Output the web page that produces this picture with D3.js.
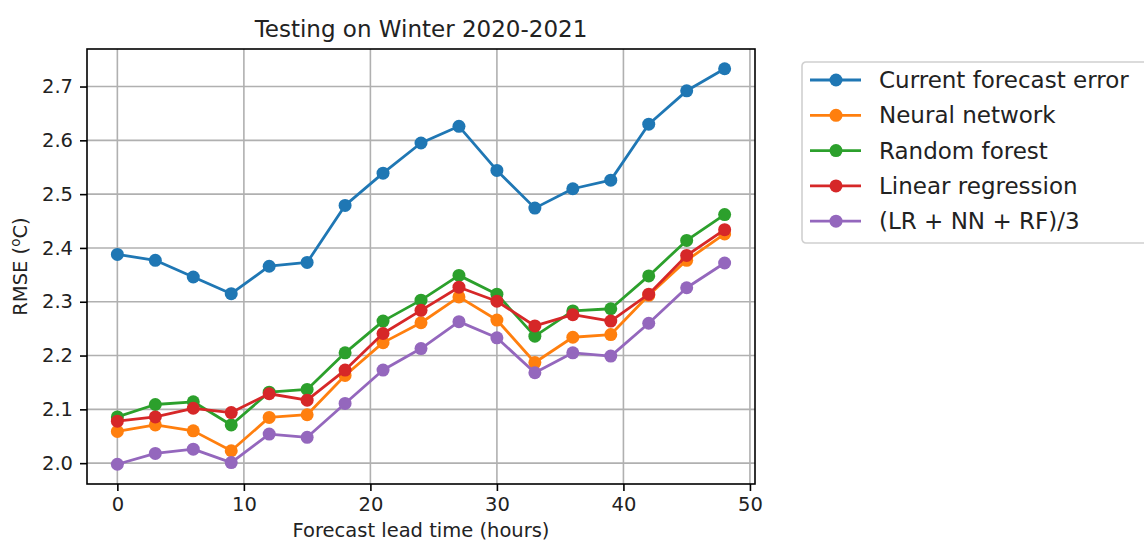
<!DOCTYPE html>
<html>
<head>
<meta charset="utf-8">
<script src="https://cdn.jsdelivr.net/npm/d3@7"></script>
<style>
  body { margin: 0; background: #fff; }
  svg { display: block; font-family: "DejaVu Sans", sans-serif; }
</style>
</head>
<body>
<div id="chart"></div>
<script>
// lead times (hours)
const leadTimes = [0, 3, 6, 9, 12, 15, 18, 21, 24, 27, 30, 33, 36, 39, 42, 45, 48]

const currentError = [2.388, 2.377, 2.346, 2.315, 2.366, 2.373, 2.479, 2.539, 2.595, 2.626, 2.544, 2.474, 2.510, 2.526, 2.630, 2.692, 2.733]
const neuralNet    = [2.059, 2.071, 2.060, 2.023, 2.085, 2.090, 2.163, 2.224, 2.261, 2.309, 2.266, 2.187, 2.234, 2.239, 2.312, 2.377, 2.426]
const randomForest = [2.086, 2.109, 2.114, 2.071, 2.132, 2.137, 2.205, 2.264, 2.303, 2.349, 2.314, 2.236, 2.283, 2.287, 2.348, 2.414, 2.462]
const linearReg    = [2.078, 2.086, 2.102, 2.094, 2.129, 2.117, 2.173, 2.241, 2.284, 2.327, 2.301, 2.255, 2.276, 2.264, 2.314, 2.386, 2.434]
const ensembleAvg  = [1.998, 2.018, 2.026, 2.001, 2.054, 2.048, 2.111, 2.173, 2.213, 2.263, 2.233, 2.168, 2.205, 2.199, 2.260, 2.326, 2.372]

const seriesNames = ["Current forecast error", "Neural network", "Random forest", "Linear regression", "(LR + NN + RF)/3"]
const seriesValues = [currentError, neuralNet, randomForest, linearReg, ensembleAvg]
const colors = ["#1f77b4", "#ff7f0e", "#2ca02c", "#d62728", "#9467bd"]

const xTicks = [0, 10, 20, 30, 40, 50]
const yTicks = [2.0, 2.1, 2.2, 2.3, 2.4, 2.5, 2.6, 2.7]

const W = 1144, H = 543
const margin = {top: 49, right: 389, bottom: 59, left: 87}
const width = W - margin.left - margin.right
const height = H - margin.top - margin.bottom

const svg = d3.select("#chart").append("svg")
    .attr("width", W)
    .attr("height", H)

const g = svg.append("g")
    .attr("transform", "translate(" + margin.left + "," + margin.top + ")")

// matplotlib style 5% margins
const xExt = d3.extent(leadTimes)
const xPad = (xExt[1] - xExt[0]) * 0.05
const allVals = seriesValues.flat()
const yExt = d3.extent(allVals)
const yPad = (yExt[1] - yExt[0]) * 0.05

const x = d3.scaleLinear()
    .domain([xExt[0] - xPad, xExt[1] + xPad])
    .range([0, width])
const y = d3.scaleLinear()
    .domain([yExt[0] - yPad, yExt[1] + yPad])
    .range([height, 0])

// grid
g.append("g").selectAll("line").data(xTicks).join("line")
    .attr("x1", d => x(d)).attr("x2", d => x(d))
    .attr("y1", 0).attr("y2", height)
    .attr("stroke", "#b0b0b0").attr("stroke-width", 1.6)
g.append("g").selectAll("line").data(yTicks).join("line")
    .attr("y1", d => y(d)).attr("y2", d => y(d))
    .attr("x1", 0).attr("x2", width)
    .attr("stroke", "#b0b0b0").attr("stroke-width", 1.6)

// axes
const xAxis = g.append("g")
    .attr("transform", "translate(0," + height + ")")
    .call(d3.axisBottom(x).tickValues(xTicks).tickFormat(d3.format("d")).tickSize(7).tickPadding(6))
const yAxis = g.append("g")
    .call(d3.axisLeft(y).tickValues(yTicks).tickFormat(d3.format(".1f")).tickSize(7).tickPadding(7))
for (const ax of [xAxis, yAxis]) {
    ax.select(".domain").remove()
    ax.selectAll("line").attr("stroke", "#000").attr("stroke-width", 1.6)
    ax.selectAll("text").attr("font-size", 19.5).attr("fill", "#222")
        .attr("font-family", "DejaVu Sans")
}

// lines + markers
seriesValues.forEach(function(vals, i) {
    const pts = leadTimes.map((t, j) => [t, vals[j]])
    g.append("path")
        .datum(pts)
        .attr("fill", "none")
        .attr("stroke", colors[i])
        .attr("stroke-width", 2.8)
        .attr("stroke-linejoin", "round")
        .attr("d", d3.line().x(d => x(d[0])).y(d => y(d[1])))
    g.append("g").selectAll("circle").data(pts).join("circle")
        .attr("cx", d => x(d[0]))
        .attr("cy", d => y(d[1]))
        .attr("r", 6.5)
        .attr("fill", colors[i])
})

// frame
g.append("rect")
    .attr("width", width).attr("height", height)
    .attr("fill", "none").attr("stroke", "#000").attr("stroke-width", 1.6)

// title and labels
svg.append("text")
    .attr("x", margin.left + width / 2).attr("y", 37)
    .attr("text-anchor", "middle").attr("font-size", 23).attr("fill", "#222")
    .text("Testing on Winter 2020-2021")
svg.append("text")
    .attr("x", margin.left + width / 2).attr("y", 537)
    .attr("text-anchor", "middle").attr("font-size", 19.5).attr("fill", "#222")
    .text("Forecast lead time (hours)")
const yl = svg.append("text")
    .attr("transform", "translate(27," + (margin.top + height / 2) + ") rotate(-90)")
    .attr("text-anchor", "middle").attr("font-size", 19.5).attr("fill", "#222")
yl.append("tspan").text("RMSE (")
yl.append("tspan").attr("font-size", 13.5).attr("dy", -7).text("o")
yl.append("tspan").attr("dy", 7).text("C)")

// legend
const leg = svg.append("g").attr("transform", "translate(802,62)")
leg.append("rect")
    .attr("width", 400).attr("height", 181)
    .attr("rx", 4).attr("ry", 4)
    .attr("fill", "#fff").attr("stroke", "#d0d0d0").attr("stroke-width", 1.6)
seriesNames.forEach(function(name, i) {
    const cy = 18 + i * 35.3
    leg.append("line")
        .attr("x1", 8).attr("x2", 59).attr("y1", cy).attr("y2", cy)
        .attr("stroke", colors[i]).attr("stroke-width", 2.8)
    leg.append("circle").attr("cx", 34).attr("cy", cy).attr("r", 6.5).attr("fill", colors[i])
    leg.append("text")
        .attr("x", 77).attr("y", cy + 8)
        .attr("font-size", 23).attr("fill", "#222")
        .text(name)
})
</script>
</body>
</html>
